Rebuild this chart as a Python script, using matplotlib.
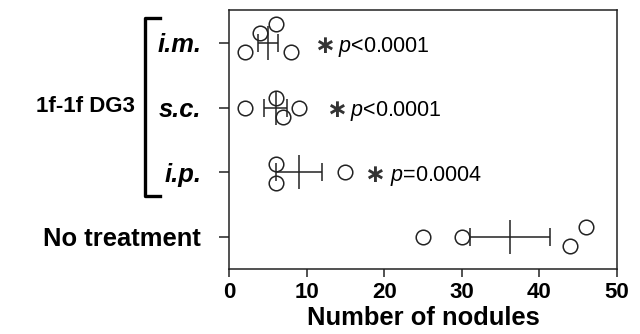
import numpy as np
import matplotlib
matplotlib.use("Agg")
import matplotlib.pyplot as plt

plt.rcParams['font.family'] = ['Liberation Sans', 'DejaVu Sans']
plt.rcParams['mathtext.fontset'] = 'custom'
plt.rcParams['mathtext.it'] = 'Liberation Sans:italic'
plt.rcParams['mathtext.rm'] = 'Liberation Sans'

# Data (bottom to top)
groups = ["No treatment", "i.p.", "s.c.", "i.m."]
values = [
    [25, 30, 44, 46],
    [6, 6, 15],
    [2, 6, 7, 9],
    [2, 4, 6, 8],
]
# vertical jitter of points (category units)
jitter = [
    [0.0, 0.0, -0.14, 0.15],
    [0.12, -0.17, 0.0],
    [0.0, 0.15, -0.15, 0.0],
    [-0.14, 0.15, 0.29, -0.14],
]
pvals = [None, "=0.0004", "<0.0001", "<0.0001"]
star_x = [None, 18.8, 13.8, 12.25]
ptext_x = [None, 20.75, 15.6, 14.05]
xticks = [0, 10, 20, 30, 40, 50]

col = '#222222'
fig = plt.figure(figsize=(6.4, 3.34), dpi=100)
ax = fig.add_axes([229/640, 1-269/334, (617-229)/640, (269-10)/334])

for i, (vals, jit) in enumerate(zip(values, jitter)):
    v = np.array(vals, float)
    y = i + np.array(jit)
    ax.plot(v, y, linestyle='none', marker='o', ms=10.5, mfc='none',
            mec=col, mew=1.1)
    m = v.mean()
    sem = v.std(ddof=1) / np.sqrt(len(v))
    ax.errorbar([m], [i], xerr=[sem], fmt='none', ecolor=col, elinewidth=1.1,
                capsize=6.5, capthick=1.1)
    ax.plot([m], [i], marker='|', ms=25, mew=1.1, color=col, linestyle='none')
    if pvals[i] is not None:
        ax.text(star_x[i], i - 0.04, "\u2217", fontsize=18, fontweight='bold',
                family=['DejaVu Sans'], color='#333333', ha='center', va='center')
        ax.text(ptext_x[i], i - 0.06, r"$\mathit{p}$" + pvals[i],
                fontsize=15.5, color='black', ha='left', va='center')

ax.set_xlim(0, 50)
ax.set_ylim(-0.5, 3.51)
ax.set_xticks(xticks)
ax.set_xticklabels([str(t) for t in xticks], fontsize=16, fontweight='bold')
ax.set_yticks(range(len(groups)))
ax.set_yticklabels(groups, fontsize=18.4, fontweight='bold')
for lbl in ax.get_yticklabels():
    if lbl.get_text() != "No treatment":
        lbl.set_style('italic')
ax.tick_params(axis='y', direction='out', length=7, width=1.1, pad=13, colors=col, labelcolor='black')
ax.tick_params(axis='x', direction='out', length=6, width=1.1, pad=3, colors=col, labelcolor='black')
for s in ax.spines.values():
    s.set_linewidth(1.1)
    s.set_color(col)

ax.set_xlabel("Number of nodules", fontsize=18.4, fontweight='bold', va='center')
ax.xaxis.set_label_coords(0.5, -0.189)

# bracket
bx, bx2 = 145/640, 160/640
by1, by2 = 1-18/334, 1-196/334
fig.add_artist(plt.Line2D([bx2, bx, bx, bx2], [by1, by1, by2, by2],
                          transform=fig.transFigure, color='black', lw=2.4))
fig.text(85/640, 1-107/334, "1f-1f DG3", fontsize=16, fontweight='bold',
         ha='center', va='center')

fig.savefig("out.png", dpi=100)
